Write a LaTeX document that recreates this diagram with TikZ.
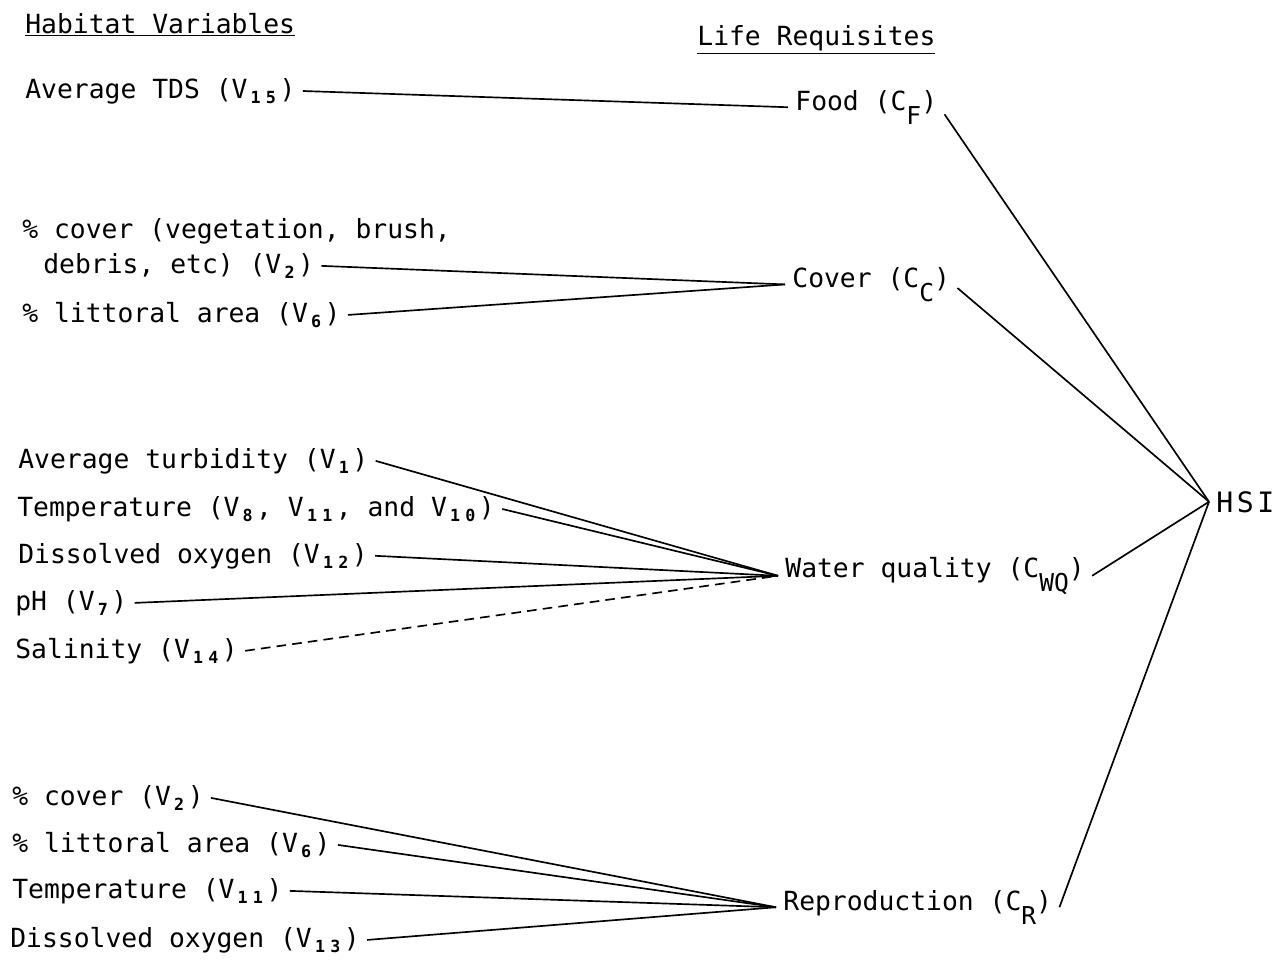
\documentclass[tikz,border=0pt]{standalone}
\usepackage{fontspec}
\setmainfont{DejaVu Sans Mono}
\newcommand\vsb[1]{\hspace{1.8pt}\raisebox{-0.4ex}{\fontsize{9.5}{9.5}\selectfont\bfseries #1}\hspace{2pt}}
\newcommand\csb[1]{\raisebox{-0.55em}{\fontsize{14}{14}\selectfont #1}}
\newcommand\dsp{\hspace{3pt}}
\tikzset{
  lbl/.style={anchor=base west, inner xsep=4pt, inner ysep=1pt},
  conn/.style={line width=0.95pt},
  dconn/.style={line width=0.95pt, dash pattern=on 5.5pt off 3.5pt}
}
\begin{document}
\begin{tikzpicture}[x=0.02cm, y=-0.02cm, font=\fontsize{15}{18}\selectfont]
\useasboundingbox (0,0) rectangle (1284,960);
% headers
\node[lbl] (hv) at (18,33) {\underline{Habitat Variables}};
\node[lbl] (lr) at (690,45) {\underline{Life Requisites}};
% food
\node[lbl] (v15) at (18,98) {Average TDS (V\vsb{1\dsp5})};
\node[lbl] (food) at (788,110) {Food (C\csb{F})};
% cover
\node[lbl] (cv1) at (15,238) {\% cover (vegetation, brush,};
\node[lbl] (cv2) at (36,273) {debris, etc) (V\vsb{2})};
\node[lbl] (lit) at (15,322) {\% littoral area (V\vsb{6})};
\node[lbl] (cc) at (785,287) {Cover (C\csb{C})};
% water quality
\node[lbl] (tu) at (11,468) {Average turbidity (V\vsb{1})};
\node[lbl] (te) at (10,516) {Temperature (V\vsb{8}, V\vsb{1\dsp1}, and V\vsb{1\dsp0})};
\node[lbl] (do) at (11,563) {Dissolved oxygen (V\vsb{1\dsp2})};
\node[lbl] (ph) at (8,610) {pH (V\vsb{7})};
\node[lbl] (sa) at (8,658) {Salinity (V\vsb{1\dsp4})};
\node[lbl] (wq) at (778,577) {Water quality (C\csb{WQ})};
% reproduction
\node[lbl] (r1) at (5,805) {\% cover (V\vsb{2})};
\node[lbl] (r2) at (5,852) {\% littoral area (V\vsb{6})};
\node[lbl] (r3) at (5,898) {Temperature (V\vsb{1\dsp1})};
\node[lbl] (r4) at (3,947) {Dissolved oxygen (V\vsb{1\dsp3})};
\node[lbl] (rep) at (776,910) {Reproduction (C\csb{R})};
% HSI
\node[lbl, font=\fontsize{16}{18}\selectfont] (hsi) at (1209,512) {H\hspace{2pt}S\hspace{2pt}I};
% connectors
\draw[conn] (v15.east) -- (food.west);
\draw[conn] (cv2.east) -- (cc.west);
\draw[conn] (lit.east) -- (cc.west);
\draw[conn] (tu.east) -- (wq.west);
\draw[conn] (te.east) -- (wq.west);
\draw[conn] (do.east) -- (wq.west);
\draw[conn] (ph.east) -- (wq.west);
\draw[dconn] (sa.east) -- (wq.west);
\draw[conn] (r1.east) -- (rep.west);
\draw[conn] (r2.east) -- (rep.west);
\draw[conn] (r3.east) -- (rep.west);
\draw[conn] (r4.east) -- (rep.west);
\draw[conn] ([yshift=-4pt]food.east) -- (hsi.west);
\draw[conn] ([yshift=-2pt]cc.east) -- (hsi.west);
\draw[conn] (wq.east) -- (hsi.west);
\draw[conn] (rep.east) -- (hsi.west);
\end{tikzpicture}
\end{document}
